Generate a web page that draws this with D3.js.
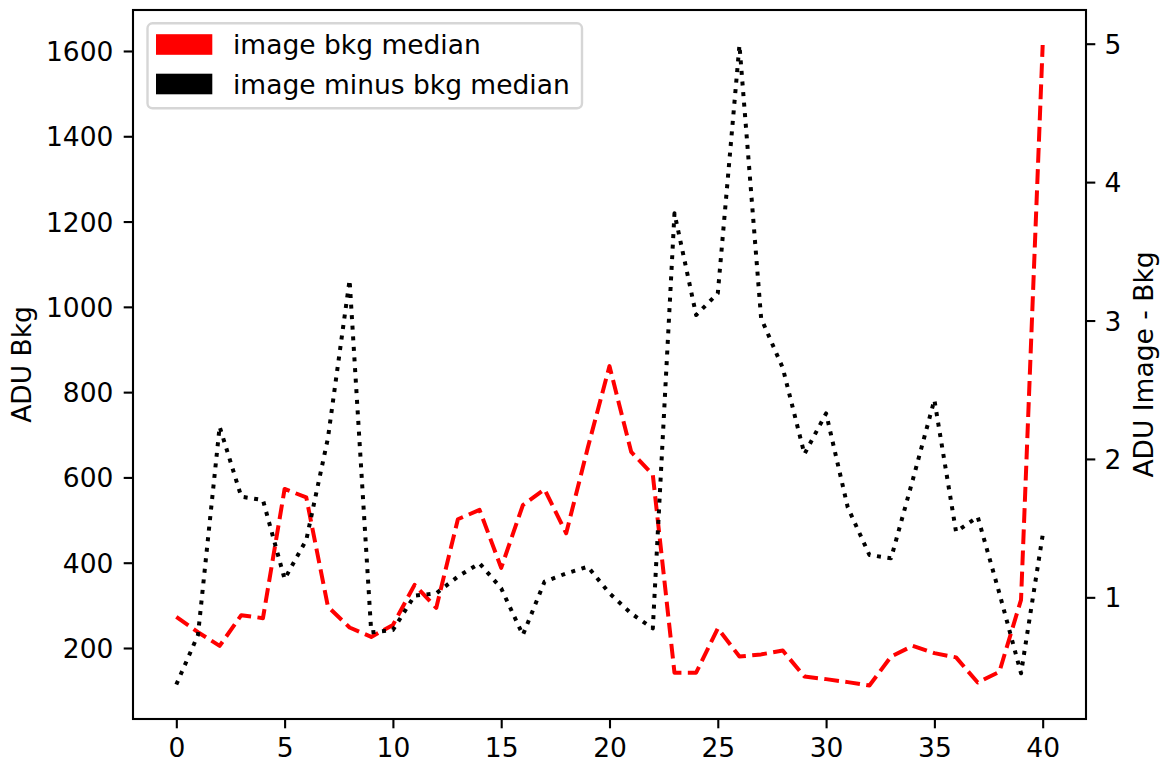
<!DOCTYPE html>
<html>
<head>
<meta charset="utf-8">
<script src="https://cdn.jsdelivr.net/npm/d3@7"></script>
<style>
  html, body { margin: 0; padding: 0; background: #fff; }
  svg { display: block; }
  text { font-family: "DejaVu Sans", sans-serif; fill: #000; }
</style>
</head>
<body>
<svg id="chart" width="1161" height="763"></svg>
<script>
// ---- data ----
const xIndex = d3.range(0, 41);
const bkgMedian = [273, 237, 205, 277, 270, 573, 553, 297, 248, 226, 254, 348, 294, 502, 524, 388, 535, 572, 469, 670, 861, 660, 606, 142, 142, 246, 180, 185, 194, 133, 127, 120, 112, 180, 205, 188, 178, 119, 144, 313, 1614];
const imageMinusBkg = [0.37, 0.728, 2.233, 1.727, 1.703, 1.132, 1.414, 2.15, 3.293, 0.747, 0.764, 1.012, 1.029, 1.15, 1.246, 1.065, 0.728, 1.113, 1.173, 1.221, 1.029, 0.884, 0.776, 3.775, 3.04, 3.196, 4.99, 3.016, 2.657, 2.035, 2.329, 1.65, 1.306, 1.282, 1.848, 2.426, 1.474, 1.582, 1.03, 0.451, 1.45];
const xTicks = [0, 5, 10, 15, 20, 25, 30, 35, 40];
const leftTicks = [200, 400, 600, 800, 1000, 1200, 1400, 1600];
const rightTicks = [1, 2, 3, 4, 5];
const seriesNames = ["image bkg median", "image minus bkg median"];
const seriesColors = ["#ff0000", "#000000"];

// ---- layout ----
const svg = d3.select("#chart");
const L = 133, R = 1086, T = 10, B = 719;
const fs = 26.5;
const tickLen = 9.3, tickPad = 9.3;

const x = d3.scaleLinear().domain([-2, 42]).range([L, R]);
const yL = d3.scaleLinear().domain([33.5, 1696.1]).range([B, T]);
const yR = d3.scaleLinear().domain([0.121, 5.2435]).range([B, T]);

// lines
const lineL = d3.line().x((d, i) => x(xIndex[i])).y(d => yL(d));
const lineR = d3.line().x((d, i) => x(xIndex[i])).y(d => yR(d));

const clip = svg.append("clipPath").attr("id", "clip")
  .append("rect").attr("x", L).attr("y", T).attr("width", R - L).attr("height", B - T);

const plot = svg.append("g").attr("clip-path", "url(#clip)");
plot.append("path").datum(bkgMedian)
  .attr("d", lineL).attr("fill", "none").attr("stroke", seriesColors[0])
  .attr("stroke-width", 4).attr("stroke-dasharray", "14.8,6.4")
  .attr("stroke-linejoin", "round").attr("stroke-linecap", "butt");
plot.append("path").datum(imageMinusBkg)
  .attr("d", lineR).attr("fill", "none").attr("stroke", seriesColors[1])
  .attr("stroke-width", 4).attr("stroke-dasharray", "4,6.6")
  .attr("stroke-linejoin", "round").attr("stroke-linecap", "butt");

// axes
function styleAxis(g) {
  g.selectAll("path.domain").remove();
  g.selectAll(".tick line").attr("stroke", "#000").attr("stroke-width", 2.1);
  g.selectAll(".tick text").attr("font-size", fs).attr("font-family", "DejaVu Sans").attr("fill", "#000");
}
const gx = svg.append("g").attr("transform", `translate(0,${B})`)
  .call(d3.axisBottom(x).tickValues(xTicks).tickFormat(d3.format("d")).tickSize(tickLen).tickPadding(tickPad));
styleAxis(gx);
gx.selectAll(".tick text").attr("dy", "0.72em");

const gl = svg.append("g").attr("transform", `translate(${L},0)`)
  .call(d3.axisLeft(yL).tickValues(leftTicks).tickFormat(d3.format("d")).tickSize(tickLen).tickPadding(tickPad + 1));
styleAxis(gl);
gl.selectAll(".tick text").attr("dy", "0.36em");

const gr = svg.append("g").attr("transform", `translate(${R},0)`)
  .call(d3.axisRight(yR).tickValues(rightTicks).tickFormat(d3.format("d")).tickSize(tickLen).tickPadding(tickPad));
styleAxis(gr);
gr.selectAll(".tick text").attr("dy", "0.36em");

// frame
svg.append("rect").attr("x", L).attr("y", T).attr("width", R - L).attr("height", B - T)
  .attr("fill", "none").attr("stroke", "#000").attr("stroke-width", 2.1);

// axis labels
svg.append("text").attr("transform", `translate(21.7,${(T + B) / 2}) rotate(-90)`)
  .attr("text-anchor", "middle").attr("dy", "0.36em").attr("font-size", fs).text("ADU Bkg");
svg.append("text").attr("transform", `translate(1143,${(T + B) / 2}) rotate(-90)`)
  .attr("text-anchor", "middle").attr("dy", "0.36em").attr("font-size", fs).text("ADU Image - Bkg");

// legend
const lg = svg.append("g");
lg.append("rect").attr("x", 147.5).attr("y", 23.3).attr("width", 434.5).attr("height", 85)
  .attr("rx", 5).attr("ry", 5).attr("fill", "#fff").attr("fill-opacity", 0.8)
  .attr("stroke", "#d6d6d6").attr("stroke-width", 2.4);
seriesNames.forEach((name, i) => {
  const cy = 44.5 + i * 39.5;
  lg.append("rect").attr("x", 156).attr("y", cy - 10.3).attr("width", 56.3).attr("height", 20.6)
    .attr("fill", seriesColors[i]);
  lg.append("text").attr("x", 233).attr("y", cy).attr("dy", "0.36em")
    .attr("font-size", fs).text(name);
});
</script>
</body>
</html>
